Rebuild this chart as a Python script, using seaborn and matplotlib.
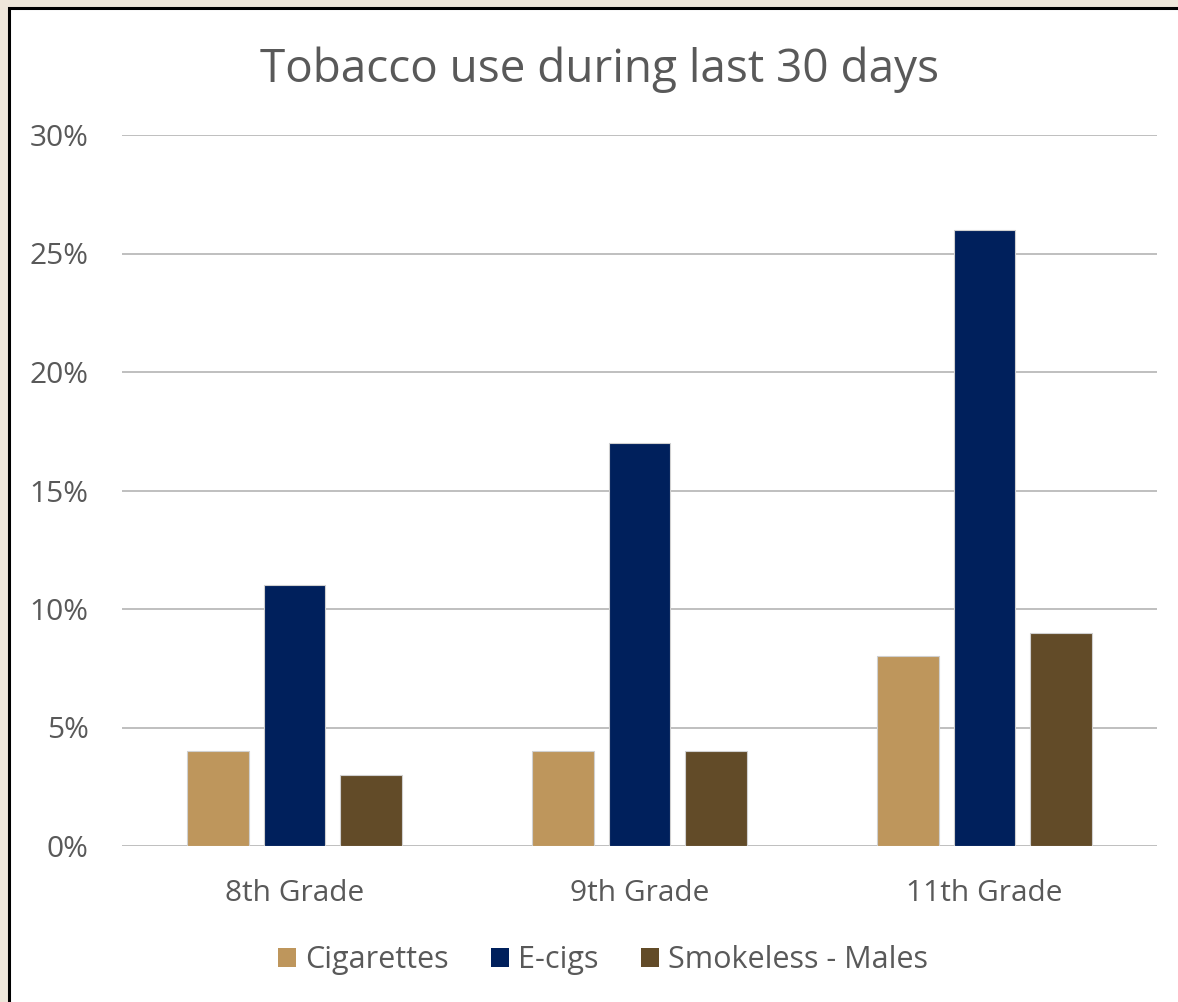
import matplotlib
matplotlib.use("Agg")
import matplotlib.pyplot as plt
import matplotlib.patches as mpatches
from matplotlib.ticker import PercentFormatter
import seaborn as sns
import pandas as pd

grades = ["8th Grade", "9th Grade", "11th Grade"]
series = ["Cigarettes", "E-cigs", "Smokeless - Males"]
cigarettes = [0.04, 0.04, 0.08]
ecigs = [0.11, 0.17, 0.26]
smokeless = [0.03, 0.04, 0.09]
colors = ["#BE965C", "#00205C", "#624B28"]
yticks = [0, 0.05, 0.10, 0.15, 0.20, 0.25, 0.30]

rows = []
for name, vals in zip(series, [cigarettes, ecigs, smokeless]):
    for g, v in zip(grades, vals):
        rows.append({"Grade": g, "Series": name, "Value": v})
df = pd.DataFrame(rows)

sns.set_theme(style="white")
plt.rcParams["font.family"] = ["Open Sans", "DejaVu Sans"]
text_color = "#595959"

fig = plt.figure(figsize=(11.78, 10.02), dpi=100)
fig.patch.set_facecolor("#EEE6DA")
panel = mpatches.Rectangle((8.5 / 1178, -0.01), 1.05, 1 - 7.5 / 1002 + 0.01,
                           transform=fig.transFigure, facecolor="white",
                           edgecolor="black", linewidth=2.2, zorder=-5)
fig.patches.append(panel)

ax = fig.add_axes([122 / 1178, 1 - 846 / 1002, (1157 - 122) / 1178, (846 - 135) / 1002])
ax.set_facecolor("none")
sns.barplot(data=df, x="Grade", y="Value", hue="Series", order=grades,
            hue_order=series, palette=colors, saturation=1, width=0.665, gap=0.2,
            edgecolor="#D0D0D0", linewidth=0.8, ax=ax, legend=False, zorder=3)

ax.set_ylim(0, 0.30)
ax.set_xlim(-0.5, 2.5)
ax.set_yticks(yticks)
ax.yaxis.set_major_formatter(PercentFormatter(1.0, decimals=0))
ax.grid(axis="y", color="#BFBFBF", linewidth=1.4, zorder=0)
ax.set_axisbelow(True)
for s in ax.spines.values():
    s.set_visible(False)
ax.tick_params(axis="both", length=0, labelsize=21.5, colors=text_color)
ax.tick_params(axis="y", pad=24)
ax.tick_params(axis="x", pad=24)
ax.set_xlabel("")
ax.set_ylabel("")

fig.text(600 / 1178, 1 - 70 / 1002, "Tobacco use during last 30 days",
         ha="center", va="center", fontsize=33, color=text_color)

handles = [mpatches.Patch(facecolor=c, edgecolor="none", label=l)
           for c, l in zip(colors, series)]
leg = fig.legend(handles=handles, loc="center", bbox_to_anchor=(603 / 1178, 1 - 960 / 1002),
                 ncol=3, frameon=False, fontsize=22, handlelength=0.58,
                 handleheight=0.58, handletextpad=0.3, columnspacing=1.4)
for t in leg.get_texts():
    t.set_color(text_color)

fig.savefig("out.png", dpi=100, facecolor=fig.get_facecolor())
